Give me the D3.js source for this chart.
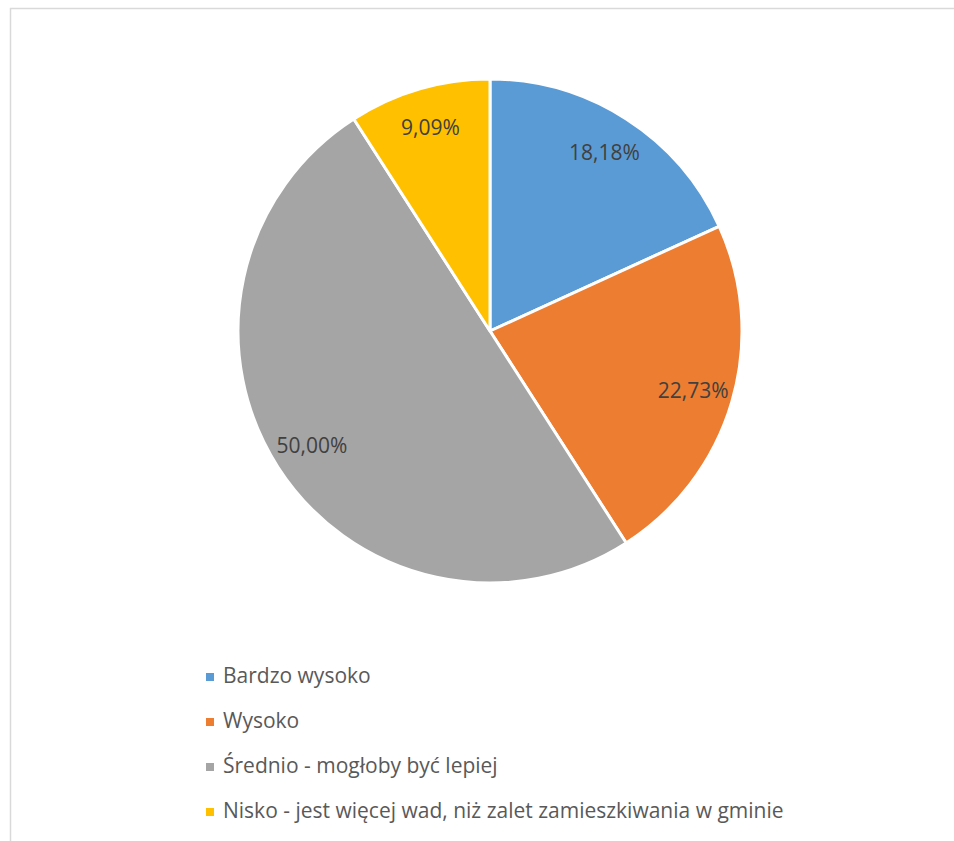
<!DOCTYPE html>
<html><head><meta charset="utf-8">
<script src="https://cdn.jsdelivr.net/npm/d3@7"></script>
<style>body{margin:0;background:#fff}svg{display:block}</style>
</head><body><svg id="c" width="954" height="841"></svg>
<script>
const categories = ["Bardzo wysoko","Wysoko","Średnio - mogłoby być lepiej","Nisko - jest więcej wad, niż zalet zamieszkiwania w gminie"];
const values = [18.18, 22.73, 50.00, 9.09];
const labels = ["18,18%","22,73%","50,00%","9,09%"];
const colors = ["#5B9BD5","#ED7D31","#A5A5A5","#FFC000"];

const svg = d3.select("#c");
const font = "'Open Sans', Lato, sans-serif";
svg.append("rect").attr("x",10.5).attr("y",8.5).attr("width",960).attr("height",850)
  .attr("fill","#fff").attr("stroke","#d9d9d9").attr("stroke-width",1.5);

const cx=490, cy=331, r=252;
const pie = d3.pie().sort(null).value(d=>d);
const arcs = pie(values);
const arc = d3.arc().innerRadius(0).outerRadius(r);
const g = svg.append("g").attr("transform",`translate(${cx},${cy})`);
g.selectAll("path").data(arcs).join("path").attr("d",arc)
  .attr("fill",(d,i)=>colors[i]).attr("stroke","#fff").attr("stroke-width",3).attr("stroke-linejoin","round");
const labArc = d3.arc().innerRadius(r*0.84).outerRadius(r*0.84);
g.selectAll("text").data(arcs).join("text")
  .attr("transform",d=>{const c=labArc.centroid(d);return `translate(${c[0]},${c[1]})`;})
  .attr("text-anchor","middle").attr("dy","0.35em")
  .attr("font-family",font).attr("font-size",21).attr("fill","#404040")
  .text((d,i)=>labels[i]);

const lg = svg.append("g");
const rowY = d3.scalePoint().domain(categories).range([683,818]);
categories.forEach((c,i)=>{
  const y=rowY(c);
  lg.append("rect").attr("x",206).attr("y",y-10).attr("width",8).attr("height",8).attr("fill",colors[i]);
  lg.append("text").attr("x",223).attr("y",y).attr("font-family",font).attr("font-size",21)
    .attr("fill","#595959").text(c);
});
</script></body></html>
